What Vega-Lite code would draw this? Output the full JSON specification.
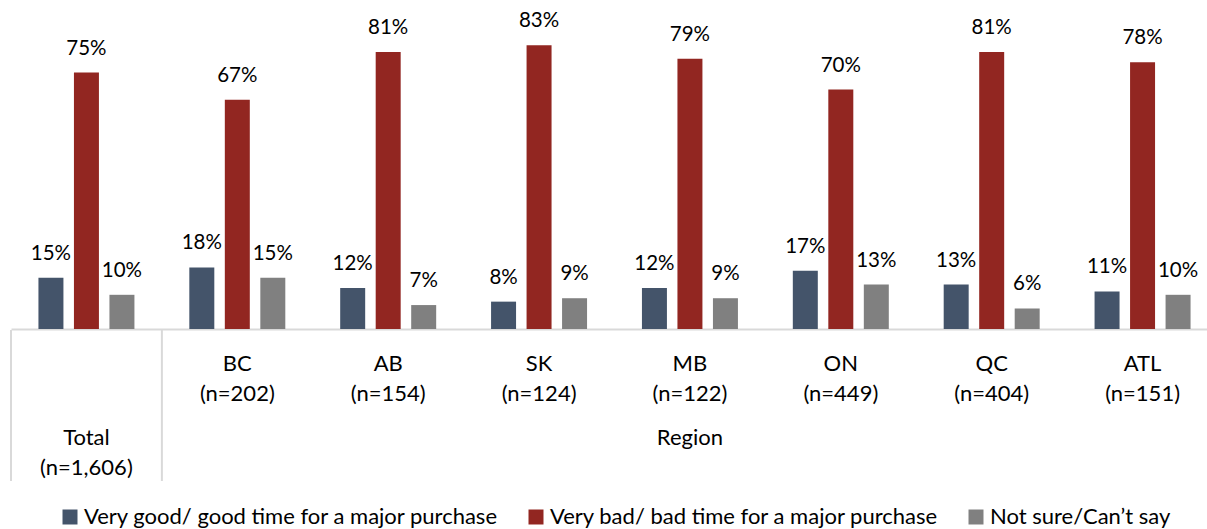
{
  "$schema": "https://vega.github.io/schema/vega-lite/v6.json",
  "padding": {"left": 10, "top": 0, "right": 0, "bottom": 0},
  "spacing": 0,
  "config": {
    "view": {"stroke": null},
    "font": "Lato",
    "legend": {"labelFont": "Lato", "layout": {"bottom": {"anchor": "middle"}}}
  },
  "resolve": {"scale": {"color": "shared"}, "legend": {"color": "shared"}},
  "vconcat": [
    {
      "width": 1207,
      "height": 329,
      "data": {
        "values": [
          {"group": "Total", "series": "Very good/ good time for a major purchase", "value": 0.15},
          {"group": "Total", "series": "Very bad/ bad time for a major purchase", "value": 0.75},
          {"group": "Total", "series": "Not sure/Can’t say", "value": 0.10},
          {"group": "BC", "series": "Very good/ good time for a major purchase", "value": 0.18},
          {"group": "BC", "series": "Very bad/ bad time for a major purchase", "value": 0.67},
          {"group": "BC", "series": "Not sure/Can’t say", "value": 0.15},
          {"group": "AB", "series": "Very good/ good time for a major purchase", "value": 0.12},
          {"group": "AB", "series": "Very bad/ bad time for a major purchase", "value": 0.81},
          {"group": "AB", "series": "Not sure/Can’t say", "value": 0.07},
          {"group": "SK", "series": "Very good/ good time for a major purchase", "value": 0.08},
          {"group": "SK", "series": "Very bad/ bad time for a major purchase", "value": 0.83},
          {"group": "SK", "series": "Not sure/Can’t say", "value": 0.09},
          {"group": "MB", "series": "Very good/ good time for a major purchase", "value": 0.12},
          {"group": "MB", "series": "Very bad/ bad time for a major purchase", "value": 0.79},
          {"group": "MB", "series": "Not sure/Can’t say", "value": 0.09},
          {"group": "ON", "series": "Very good/ good time for a major purchase", "value": 0.17},
          {"group": "ON", "series": "Very bad/ bad time for a major purchase", "value": 0.70},
          {"group": "ON", "series": "Not sure/Can’t say", "value": 0.13},
          {"group": "QC", "series": "Very good/ good time for a major purchase", "value": 0.13},
          {"group": "QC", "series": "Very bad/ bad time for a major purchase", "value": 0.81},
          {"group": "QC", "series": "Not sure/Can’t say", "value": 0.06},
          {"group": "ATL", "series": "Very good/ good time for a major purchase", "value": 0.11},
          {"group": "ATL", "series": "Very bad/ bad time for a major purchase", "value": 0.78},
          {"group": "ATL", "series": "Not sure/Can’t say", "value": 0.10}
        ]
      },
      "encoding": {
        "x": {
          "field": "group",
          "type": "nominal",
          "scale": {"domain": ["Total", "BC", "AB", "SK", "MB", "ON", "QC", "ATL"], "paddingInner": 0, "paddingOuter": 0},
          "axis": {"title": null, "labels": false, "ticks": false, "domainColor": "#d9d9d9", "domainWidth": 2}
        },
        "xOffset": {
          "field": "series",
          "type": "nominal",
          "scale": {
            "domain": ["Very good/ good time for a major purchase", "Very bad/ bad time for a major purchase", "Not sure/Can’t say"],
            "paddingInner": 0.296,
            "paddingOuter": 0.773
          }
        },
        "y": {"field": "value", "type": "quantitative", "scale": {"domain": [0, 0.962]}, "axis": null}
      },
      "layer": [
        {
          "mark": {"type": "bar"},
          "encoding": {
            "color": {
              "field": "series",
              "type": "nominal",
              "scale": {
                "domain": ["Very good/ good time for a major purchase", "Very bad/ bad time for a major purchase", "Not sure/Can’t say"],
                "range": ["#44546a", "#922621", "#808080"]
              },
              "legend": {
                "title": null,
                "orient": "bottom",
                "direction": "horizontal",
                "symbolType": "square",
                "symbolSize": 225,
                "symbolStrokeWidth": 0,
                "labelFontSize": 22,
                "labelColor": "#000000",
                "labelOffset": 3,
                "columnPadding": 26,
                "labelLimit": 600,
                "offset": 24
              }
            }
          }
        },
        {
          "mark": {"type": "text", "baseline": "alphabetic", "dy": -18, "fontSize": 20.5, "color": "#000000"},
          "encoding": {"text": {"field": "value", "type": "quantitative", "format": ".0%"}}
        }
      ]
    },
    {
      "width": 1207,
      "height": 151,
      "layer": [
        {
          "data": {"values": [{"group": "Total"}, {"group": "BC"}]},
          "mark": {"type": "rule", "color": "#d9d9d9", "strokeWidth": 2},
          "encoding": {
            "x": {
              "field": "group",
              "type": "nominal",
              "bandPosition": 0,
              "scale": {"domain": ["Total", "BC", "AB", "SK", "MB", "ON", "QC", "ATL"], "paddingInner": 0, "paddingOuter": 0},
              "axis": null
            }
          }
        },
        {
          "data": {
            "values": [
              {"group": "BC", "level": "1", "label": "BC\n(n=202)"},
              {"group": "AB", "level": "1", "label": "AB\n(n=154)"},
              {"group": "SK", "level": "1", "label": "SK\n(n=124)"},
              {"group": "MB", "level": "1", "label": "MB\n(n=122)"},
              {"group": "ON", "level": "1", "label": "ON\n(n=449)"},
              {"group": "QC", "level": "1", "label": "QC\n(n=404)"},
              {"group": "ATL", "level": "1", "label": "ATL\n(n=151)"},
              {"group": "Total", "level": "2", "label": "Total\n(n=1,606)"},
              {"group": "MB", "level": "2", "label": "Region"}
            ]
          },
          "mark": {"type": "text", "baseline": "top", "lineBreak": "\n", "lineHeight": 30, "fontSize": 22, "dy": -14.5, "color": "#000000"},
          "encoding": {
            "x": {
              "field": "group",
              "type": "nominal",
              "scale": {"domain": ["Total", "BC", "AB", "SK", "MB", "ON", "QC", "ATL"], "paddingInner": 0, "paddingOuter": 0},
              "axis": null
            },
            "y": {"field": "level", "type": "ordinal", "scale": {"type": "point", "domain": ["1", "2"], "padding": 0.5067}, "axis": null},
            "text": {"field": "label", "type": "nominal"}
          }
        }
      ]
    }
  ]
}
